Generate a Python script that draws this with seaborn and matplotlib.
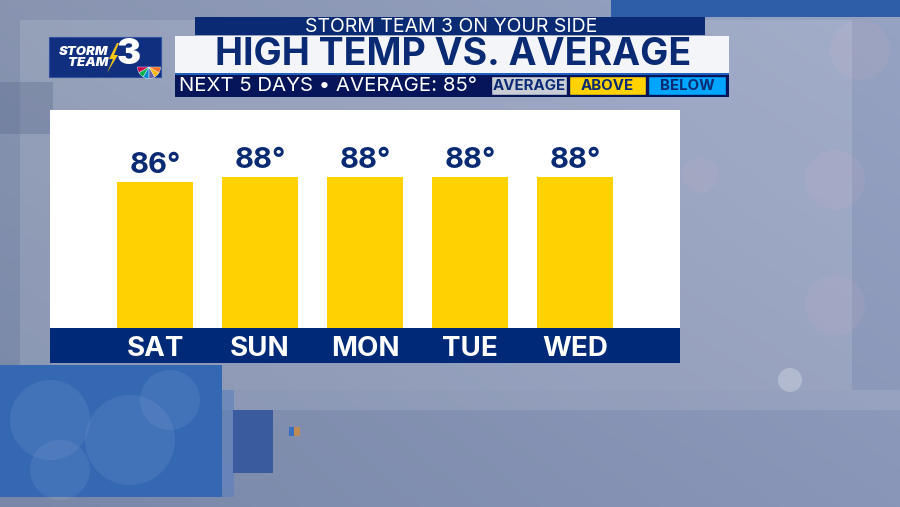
import numpy as np
import pandas as pd
import matplotlib
matplotlib.use("Agg")
import matplotlib.pyplot as plt
from matplotlib.patches import Rectangle, Polygon, Wedge, Circle
import seaborn as sns

# Dados do gráfico
days = ["SAT", "SUN", "MON", "TUE", "WED"]
highs = [86, 88, 88, 88, 88]
average_temp = 85
top_banner = "STORM TEAM 3 ON YOUR SIDE"
title = "HIGH TEMP VS. AVERAGE"
subtitle = f"NEXT 5 DAYS \u2022 AVERAGE: {average_temp}\u00b0"
legend_labels = ["AVERAGE", "ABOVE", "BELOW"]

W, H = 900, 507
NAVY = "#0a2b73"
BAND = "#002a78"
YELLOW = "#ffd200"
LIGHTBLUE = "#00a6ff"
GRAY = "#c9cdd6"

sns.set_theme(style="white")
plt.rcParams["font.family"] = ["Inter", "DejaVu Sans"]


def px_rect(x0, y0, x1, y1):
    # converter pixels (origem no topo) para coordenadas da figura
    return [x0 / W, 1 - y1 / H, (x1 - x0) / W, (y1 - y0) / H]


fig = plt.figure(figsize=(W / 100, H / 100), dpi=100)

# Fundo: céu cinza-azulado
bg = fig.add_axes([0, 0, 1, 1])
bg.set_xlim(0, W)
bg.set_ylim(H, 0)
bg.axis("off")
yy, xx = np.mgrid[0:1:200j, 0:1:300j]
tl = np.array([136, 148, 176]) / 255
tr = np.array([150, 163, 195]) / 255
bl = np.array([120, 135, 168]) / 255
br = np.array([138, 150, 183]) / 255
grad = ((1 - xx)[..., None] * (1 - yy)[..., None] * tl + xx[..., None] * (1 - yy)[..., None] * tr
        + (1 - xx)[..., None] * yy[..., None] * bl + xx[..., None] * yy[..., None] * br)
bg.imshow(grad, extent=[0, W, H, 0], aspect="auto", zorder=0)

# painéis translúcidos
bg.add_patch(Rectangle((20, 20), 832, 370, color="white", alpha=0.12, lw=0, zorder=1))
bg.add_patch(Rectangle((0, 390), 900, 20, color="white", alpha=0.10, lw=0, zorder=1))
bg.add_patch(Rectangle((0, 82), 53, 52, color="#5a6a8c", alpha=0.35, lw=0, zorder=1))
bg.add_patch(Rectangle((611, 0), 289, 17, color="#2f5ea8", lw=0, zorder=1))
bg.add_patch(Rectangle((0, 365), 222, 132, color="#3468b3", lw=0, zorder=1))
bg.add_patch(Rectangle((222, 390), 12, 107, color="#5a7fbf", alpha=0.6, lw=0, zorder=1))
bg.add_patch(Rectangle((233, 410), 40, 63, color="#3a5c9f", lw=0, zorder=1))
bg.add_patch(Rectangle((289, 427), 5, 9, color="#3a6fc0", lw=0, zorder=2))
bg.add_patch(Rectangle((294, 427), 6, 9, color="#c08a55", lw=0, zorder=2))
for cx, cy, r in [(50, 420, 40), (130, 440, 45), (170, 400, 30), (60, 470, 30)]:
    bg.add_patch(Circle((cx, cy), r, color="white", alpha=0.07, lw=0, zorder=2))
for cx, cy, r in [(860, 50, 30), (835, 180, 30), (835, 305, 30), (700, 175, 18)]:
    bg.add_patch(Circle((cx, cy), r, color="#e6b8c8", alpha=0.10, lw=0, zorder=2))
bg.add_patch(Circle((790, 380), 12, color="white", alpha=0.25, lw=0, zorder=2))

# Cabeçalho
bg.add_patch(Rectangle((195, 17), 510, 18, color=NAVY, lw=0, zorder=3))
bg.text(451, 26.5, top_banner, color="white", fontsize=14, ha="center", va="center", zorder=4)
bg.add_patch(Rectangle((175, 36), 554, 37, color="#f4f5f8", lw=0, zorder=3))
bg.add_patch(Rectangle((175, 72.5), 554, 2, color="#2060c0", lw=0, zorder=3))
bg.text(453, 55, title, color=NAVY, fontsize=27, fontweight="bold", ha="center", va="center", zorder=4)
bg.add_patch(Rectangle((175, 74.5), 554, 22, color="#06145a", lw=0, zorder=3))
bg.text(179, 86, subtitle, color="white", fontsize=14.7, ha="left", va="center", zorder=4)

# Legenda
legend_colors = [GRAY, YELLOW, LIGHTBLUE]
legend_x = [490, 568, 647]
legend_w = [78, 79, 80]
for lab, col, lx, lw_ in zip(legend_labels, legend_colors, legend_x, legend_w):
    bg.add_patch(Rectangle((lx + 1, 76), lw_ - 2, 19, facecolor=col, edgecolor="#06145a", lw=1, zorder=4))
    bg.text(lx + lw_ / 2, 86, lab, color=NAVY, fontsize=10.8, fontweight="bold", ha="center", va="center", zorder=5)

# Logotipo
bg.add_patch(Rectangle((49, 37), 112, 40, facecolor="#10307f", edgecolor="#3050a0", lw=0.8, zorder=3))
bg.text(108, 57.5, "STORM\nTEAM", color="white", fontsize=9.5, fontweight="black", style="italic",
        ha="right", va="center", multialignment="right", linespacing=0.9, zorder=4)
bg.add_patch(Polygon([(117, 43), (109, 59), (113, 59), (107, 73), (118, 55), (114, 55), (119, 43)],
                     color="#f5c518", lw=0, zorder=4))
bg.text(128.5, 55, "3", color="white", fontsize=26, fontweight="black", ha="center", va="center", zorder=4)
for i, c in enumerate(["#f37021", "#fcb711", "#6460aa", "#0089d0", "#0db14b", "#cc004c"][::-1]):
    bg.add_patch(Wedge((149, 67), 11.5, 180 - (i + 1) * 30, 180 - i * 30, color=c, lw=0.3, ec="white", zorder=4))

# Painel do gráfico
band = fig.add_axes(px_rect(50, 328, 680, 363))
band.set_facecolor(BAND)
band.set_xticks([])
band.set_yticks([])
for s in band.spines.values():
    s.set_visible(False)

ax = fig.add_axes(px_rect(50, 110, 680, 328))
df = pd.DataFrame({"day": days, "high": highs})
sns.barplot(data=df, x="day", y="high", color=YELLOW, saturation=1, width=0.724,
            linewidth=0, ax=ax)
ax.set_facecolor("white")
ax.set_xlim(-1, 5)
ax.set_ylim(32, 32 + 218 / 2.7)
ax.set_xlabel("")
ax.set_ylabel("")
ax.set_yticks([])
for s in ax.spines.values():
    s.set_visible(False)
ax.tick_params(axis="x", length=0, pad=6, labelcolor="white", labelsize=20)
for t in ax.get_xticklabels():
    t.set_fontweight("bold")
ax.bar_label(ax.containers[0], labels=[f"{v}\u00b0" for v in highs], padding=2,
             fontsize=21, fontweight="bold", color=NAVY)

fig.savefig("out.png", dpi=100)
